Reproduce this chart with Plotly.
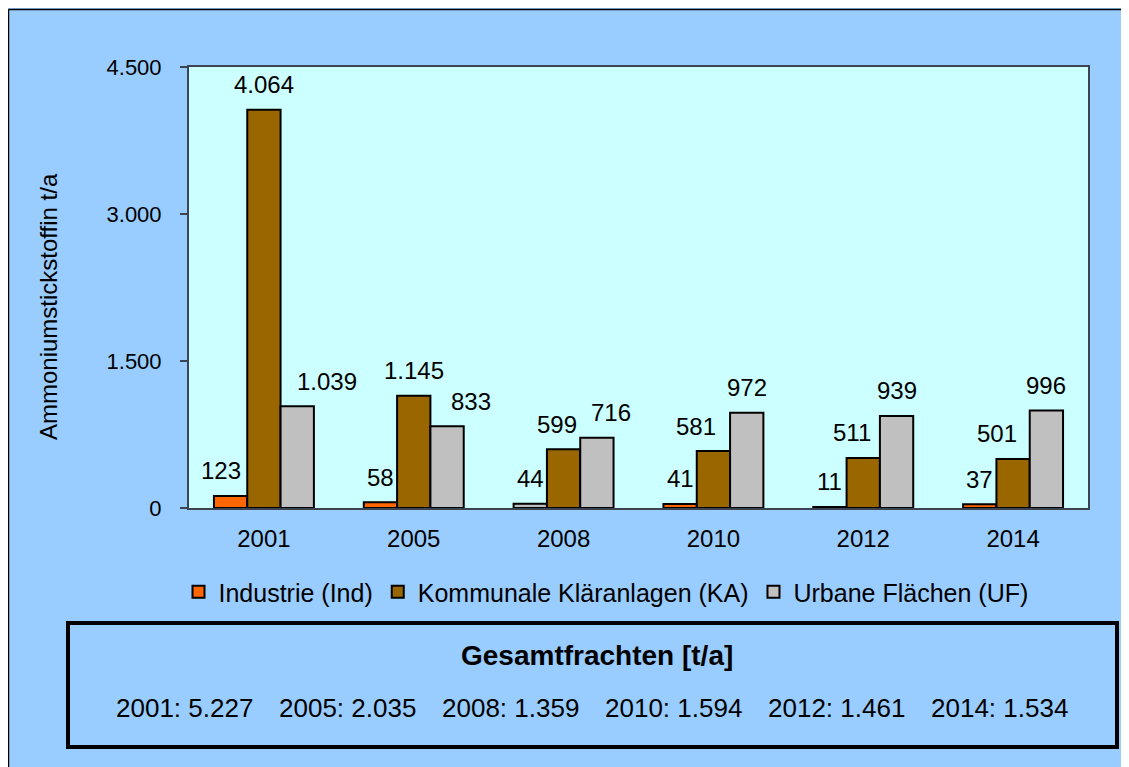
import plotly.graph_objects as go

# ---- data ----
years = ["2001", "2005", "2008", "2010", "2012", "2014"]
industrie = [123, 58, 44, 41, 11, 37]
kommunale = [4064, 1145, 599, 581, 511, 501]
urbane = [1039, 833, 716, 972, 939, 996]
totals = [5227, 2035, 1359, 1594, 1461, 1534]
series_names = ["Industrie (Ind)", "Kommunale Kläranlagen (KA)", "Urbane Flächen (UF)"]
y_ticks = [0, 1500, 3000, 4500]

# ---- style ----
FONT = "Liberation Sans, Arial, sans-serif"
C_IND = "#FF6600"
C_KA = "#996600"
C_UF = "#C0C0C0"
PAPER = "#99CCFF"
PLOTBG = "#CCFFFF"
AXIS_C = "#3a4452"
OFF = 8  # page body margin
W, H = 1129 - OFF, 767 - OFF
L, T = 189 - OFF, 67 - OFF
R = W - (1088 - OFF)
B = H - (508 - OFF)
PW, PH = W - L - R, H - T - B
BARGAP = 0.333
# horizontal nudges (px) of data labels, as placed in the original (collision avoidance)
LABEL_NUDGE = [
    [-10, 0, 0, 0, 0, 0],
    [0, 0, -7, -17, -11, -16],
    [30, 24, 14, 0, 0, 0],
]


def fmt(v):
    return f"{v:,}".replace(",", ".")


def px_x(p):  # page pixel -> paper
    return (p - OFF - L) / PW


def px_y(p):
    return (H - B - (p - OFF)) / PH


ind_colors = [C_UF if y == "2008" else C_IND for y in years]

fig = go.Figure()
for name, vals, col in [(series_names[0], industrie, ind_colors),
                        (series_names[1], kommunale, C_KA),
                        (series_names[2], urbane, C_UF)]:
    fig.add_trace(go.Bar(
        x=years, y=vals, name=name,
        marker=dict(color=col, line=dict(color="black", width=2)),
    ))

# data labels
cat_w = PW / len(years)
bar_w = cat_w * (1 - BARGAP) / 3
annotations = []
for si, vals in enumerate([industrie, kommunale, urbane]):
    for xi, v in enumerate(vals):
        annotations.append(dict(
            x=xi, y=v, xref="x", yref="y", text=fmt(v), showarrow=False,
            xshift=(si - 1) * bar_w + LABEL_NUDGE[si][xi], yshift=25,
            xanchor="center", yanchor="middle",
            font=dict(family=FONT, size=24, color="black")))

# y-axis title
annotations.append(dict(
    x=px_x(48), y=px_y(307), xref="paper", yref="paper",
    text="Ammoniumstickstoffin t/a", textangle=-90, showarrow=False,
    xanchor="center", yanchor="middle",
    font=dict(family=FONT, size=24, color="black")))

# totals box
annotations.append(dict(
    x=px_x(597), y=px_y(655), xref="paper", yref="paper",
    text="<b>Gesamtfrachten [t/a]</b>", showarrow=False,
    xanchor="center", yanchor="middle",
    font=dict(family=FONT, size=28, color="black")))
for i, (yr, tot) in enumerate(zip(years, totals)):
    annotations.append(dict(
        x=px_x(184 + i * 163), y=px_y(708), xref="paper", yref="paper",
        text=f"{yr}: {fmt(tot)}", showarrow=False,
        xanchor="center", yanchor="middle",
        font=dict(family=FONT, size=26, color="black")))

shapes = [
    # outer frame lines (top / left)
    dict(type="line", xref="paper", yref="paper", x0=px_x(8.5), x1=1.2,
         y0=px_y(9.5), y1=px_y(9.5), line=dict(color="black", width=1.5)),
    dict(type="line", xref="paper", yref="paper", x0=px_x(8.5), x1=px_x(8.5),
         y0=px_y(9.5), y1=px_y(800), line=dict(color="black", width=1.5)),
    # totals box
    dict(type="rect", xref="paper", yref="paper", x0=px_x(68), x1=px_x(1117),
         y0=px_y(747), y1=px_y(623), line=dict(color="black", width=4),
         fillcolor="rgba(0,0,0,0)"),
]

fig.update_layout(
    width=W, height=H,
    margin=dict(l=L, r=R, t=T, b=B, autoexpand=False),
    paper_bgcolor=PAPER, plot_bgcolor=PLOTBG,
    barmode="group", bargap=BARGAP, bargroupgap=0,
    font=dict(family=FONT, size=22, color="black"),
    showlegend=True,
    legend=dict(orientation="h", x=px_x(606), xanchor="center",
                y=px_y(592), yanchor="middle", bgcolor="rgba(0,0,0,0)",
                font=dict(family=FONT, size=25, color="black"),
                traceorder="normal"),
    xaxis=dict(type="category", range=[-0.5, len(years) - 0.5], autorange=False,
               showgrid=False, showline=True, mirror=True,
               linecolor=AXIS_C, linewidth=2, ticks="",
               ticklabelstandoff=8,
               tickfont=dict(family=FONT, size=24, color="black")),
    yaxis=dict(range=[0, 4500], autorange=False, tickvals=y_ticks,
               ticktext=[fmt(v) for v in y_ticks],
               showgrid=False, zeroline=False, showline=True, mirror=True,
               linecolor=AXIS_C, linewidth=2, ticks="outside", ticklen=7,
               tickcolor=AXIS_C, tickwidth=1.5, ticklabelstandoff=14,
               tickfont=dict(family=FONT, size=22, color="black")),
    annotations=annotations,
    shapes=shapes,
)

fig.write_html("out.html")
